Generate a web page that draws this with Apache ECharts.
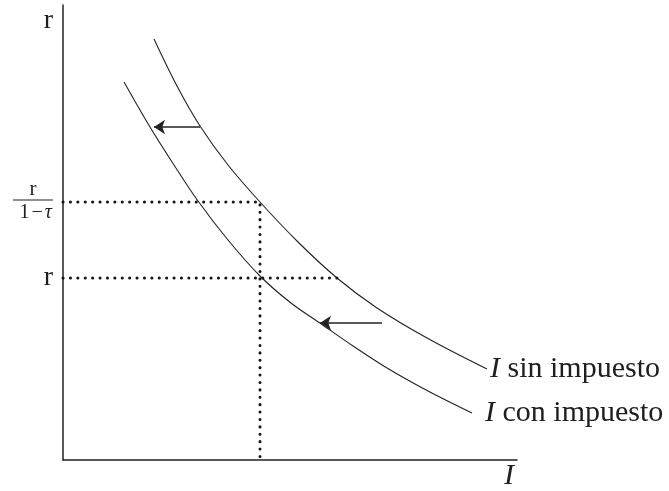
<!DOCTYPE html>
<html>
<head>
<meta charset="utf-8">
<script src="https://cdn.jsdelivr.net/npm/echarts@6/dist/echarts.min.js"></script>
<style>
html, body { margin: 0; padding: 0; background: #fff; }
#chart { width: 669px; height: 491px; }
</style>
</head>
<body>
<div id="chart"></div>
<script>
// investment demand curves (x: I, y: r, arbitrary units)
const sinImpuesto = [[91, 421], [114, 374], [137, 334], [165, 295], [197, 258], [235, 218], [274, 182], [314, 152], [364, 122], [424, 91]]
const conImpuesto = [[61, 378], [87, 333], [111, 295], [135, 259], [165, 220], [197, 184], [228, 157], [259, 135.5], [290, 114], [324, 92], [365, 69], [409, 47]]

// levels on the r axis: r and r/(1-tau)
const rLevels = [182, 258]
const iStar = 197
const iAtR = 274

// leftward shift arrows
const shiftArrows = [
  [[137, 333], [91, 333]],
  [[319, 137], [257, 137]]
]

const serif = 'Liberation Serif'
const ink = '#1e1e1e'

const chart = echarts.init(document.getElementById('chart'))

const dotted = {
  color: '#151515',
  width: 3,
  type: [0.1, 7.3],
  cap: 'round'
}

const curveLabel = (txt, dist) => ({
  show: true,
  distance: dist,
  formatter: '{i|I} ' + txt,
  fontFamily: serif, fontSize: 30, color: ink,
  rich: { i: { fontFamily: serif, fontStyle: 'italic', fontSize: 30, color: ink } }
})

const fracText = { fontFamily: serif, fontSize: 20, color: ink, lineHeight: 21 }

const option = {
  animation: false,
  grid: { left: 63, right: 152, top: 5, bottom: 31 },
  xAxis: {
    type: 'value',
    min: 0,
    max: 454,
    name: 'I',
    nameLocation: 'end',
    nameGap: -13,
    nameTextStyle: {
      fontFamily: serif, fontStyle: 'italic', fontSize: 30, color: ink,
      align: 'left', verticalAlign: 'top', padding: [1, 0, 0, 0]
    },
    axisLine: { lineStyle: { color: '#222', width: 1.5 } },
    axisTick: { show: false },
    axisLabel: { show: false },
    splitLine: { show: false }
  },
  yAxis: {
    type: 'value',
    min: 0,
    max: 455,
    name: 'r',
    nameLocation: 'end',
    nameGap: -16,
    nameTextStyle: {
      fontFamily: serif, fontSize: 28, color: ink,
      align: 'right', verticalAlign: 'middle', padding: [0, 10, 0, 0]
    },
    axisLine: { lineStyle: { color: '#222', width: 1.5 } },
    axisTick: { show: false },
    splitLine: { show: false },
    axisLabel: {
      customValues: rLevels,
      margin: 10,
      formatter: v => v === rLevels[0] ? '{r|r}' : '{num|r}\n{bar|}\n{one|1}{minus|−}{tau|τ}',
      rich: {
        r: { fontFamily: serif, fontSize: 28, color: ink },
        num: { fontFamily: serif, fontSize: 21, color: ink, width: 40, align: 'center', lineHeight: 17 },
        bar: { width: 40, height: 1, backgroundColor: ink, lineHeight: 4 },
        one: Object.assign({}, fracText, { padding: [0, 0, 0, 2] }),
        minus: Object.assign({}, fracText, { padding: [0, 2, 0, 2] }),
        tau: Object.assign({}, fracText, { fontStyle: 'italic', padding: [0, 1, 0, 0] })
      }
    }
  },
  series: [
    {
      name: 'I sin impuesto',
      type: 'line',
      smooth: 0.35,
      symbol: 'none',
      data: sinImpuesto,
      lineStyle: { color: '#222', width: 1.1 },
      endLabel: curveLabel('sin impuesto', 3)
    },
    {
      name: 'I con impuesto',
      type: 'line',
      smooth: 0.35,
      symbol: 'none',
      data: conImpuesto,
      lineStyle: { color: '#222', width: 1.1 },
      endLabel: curveLabel('con impuesto', 13)
    },
    {
      type: 'line',
      symbol: 'none',
      silent: true,
      data: [[0, rLevels[1]], [iStar, rLevels[1]], [iStar, 0]],
      lineStyle: dotted
    },
    {
      type: 'line',
      symbol: 'none',
      silent: true,
      data: [[0, rLevels[0]], [iAtR, rLevels[0]]],
      lineStyle: dotted
    },
    {
      type: 'lines',
      coordinateSystem: 'cartesian2d',
      symbol: ['none', 'arrow'],
      symbolSize: [8, 11],
      lineStyle: { color: '#222', width: 1.5, opacity: 1 },
      data: shiftArrows.map(c => ({ coords: c }))
    }
  ]
}

chart.setOption(option)
</script>
</body>
</html>
